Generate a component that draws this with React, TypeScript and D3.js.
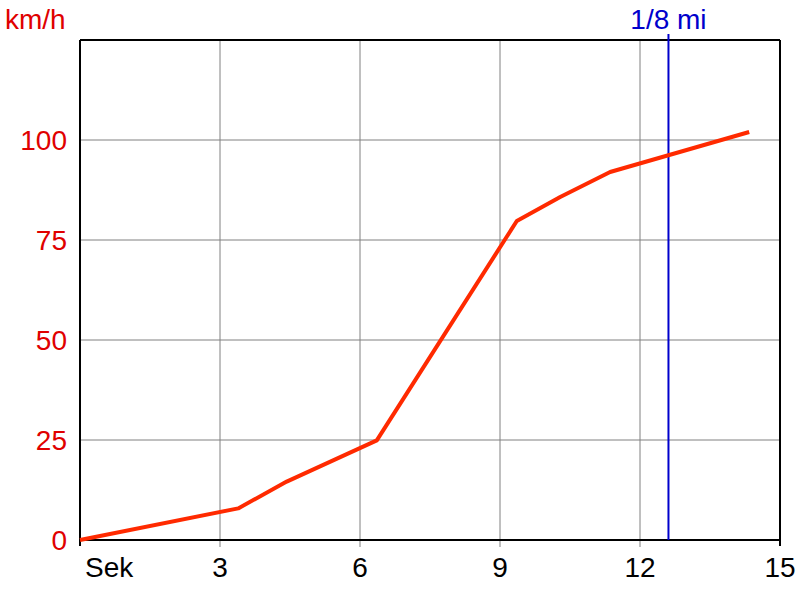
import React from "react";
import * as d3 from "d3";

const timeSec = [0, 3.39, 4.43, 6.36, 9.36, 10.29, 11.36, 14.34];
const speedKmh = [0, 7.9, 14.6, 24.9, 79.75, 85.75, 92, 102];
const xTicks = [3, 6, 9, 12, 15];
const yTicks = [0, 25, 50, 75, 100];
const markerTime = [12.61];
const markerLabel = "1/8 mi";
const yUnit = "km/h";
const xUnit = "Sek";

export default function App() {
  const W = 800, H = 600;
  const left = 80, right = 780, top = 40, bottom = 540;
  const x = d3.scaleLinear().domain([0, 15]).range([left, right]);
  const y = d3.scaleLinear().domain([0, 125]).range([bottom, top]);
  const pts = timeSec.map((t, i) => [t, speedKmh[i]] as [number, number]);
  const line = d3.line<[number, number]>().x(d => x(d[0])).y(d => y(d[1]));
  const font = "'Liberation Sans', Arial, sans-serif";
  const red = "#e00000";
  const blue = "#0000cc";
  const fs = 28;
  return (
    <svg width={W} height={H} style={{ position: "absolute", left: 0, top: 0, background: "#fff" }} fontFamily={font}>
      <rect x={0} y={0} width={W} height={H} fill="#fff" />
      {xTicks.filter(t => t < 15).map(t => (
        <line key={"gx" + t} x1={x(t)} x2={x(t)} y1={top} y2={bottom + 7} stroke="#808080" strokeWidth={1} />
      ))}
      {yTicks.filter(t => t > 0).map(t => (
        <line key={"gy" + t} x1={left} x2={right} y1={y(t)} y2={y(t)} stroke="#808080" strokeWidth={1} />
      ))}
      {/* frame */}
      <line x1={left} x2={right} y1={top} y2={top} stroke="#000" strokeWidth={2} />
      <line x1={left} x2={right} y1={bottom} y2={bottom} stroke="#000" strokeWidth={2} />
      <line x1={left} x2={left} y1={top} y2={bottom + 6} stroke="#000" strokeWidth={2} />
      <line x1={right} x2={right} y1={top} y2={bottom + 6} stroke="#000" strokeWidth={2} />
      {markerTime.map(t => (
        <line key={"m" + t} x1={x(t)} x2={x(t)} y1={top - 6} y2={bottom} stroke={blue} strokeWidth={2} />
      ))}
      <path d={line(pts) || ""} fill="none" stroke="#ff2a00" strokeWidth={4} strokeLinejoin="round" />
      {yTicks.map(t => (
        <text key={"yl" + t} x={67} y={y(t) + 10} textAnchor="end" fontSize={fs} fill={red}>{t}</text>
      ))}
      {xTicks.map(t => (
        <text key={"xl" + t} x={x(t)} y={577} textAnchor="middle" fontSize={fs} fill="#000">{t}</text>
      ))}
      <text x={85} y={577} textAnchor="start" fontSize={fs} fill="#000">{xUnit}</text>
      <text x={5} y={29} textAnchor="start" fontSize={fs} fill={red}>{yUnit}</text>
      {markerTime.map(t => (
        <text key={"ml" + t} x={x(t)} y={29} textAnchor="middle" fontSize={fs} fill={blue}>{markerLabel}</text>
      ))}
    </svg>
  );
}
